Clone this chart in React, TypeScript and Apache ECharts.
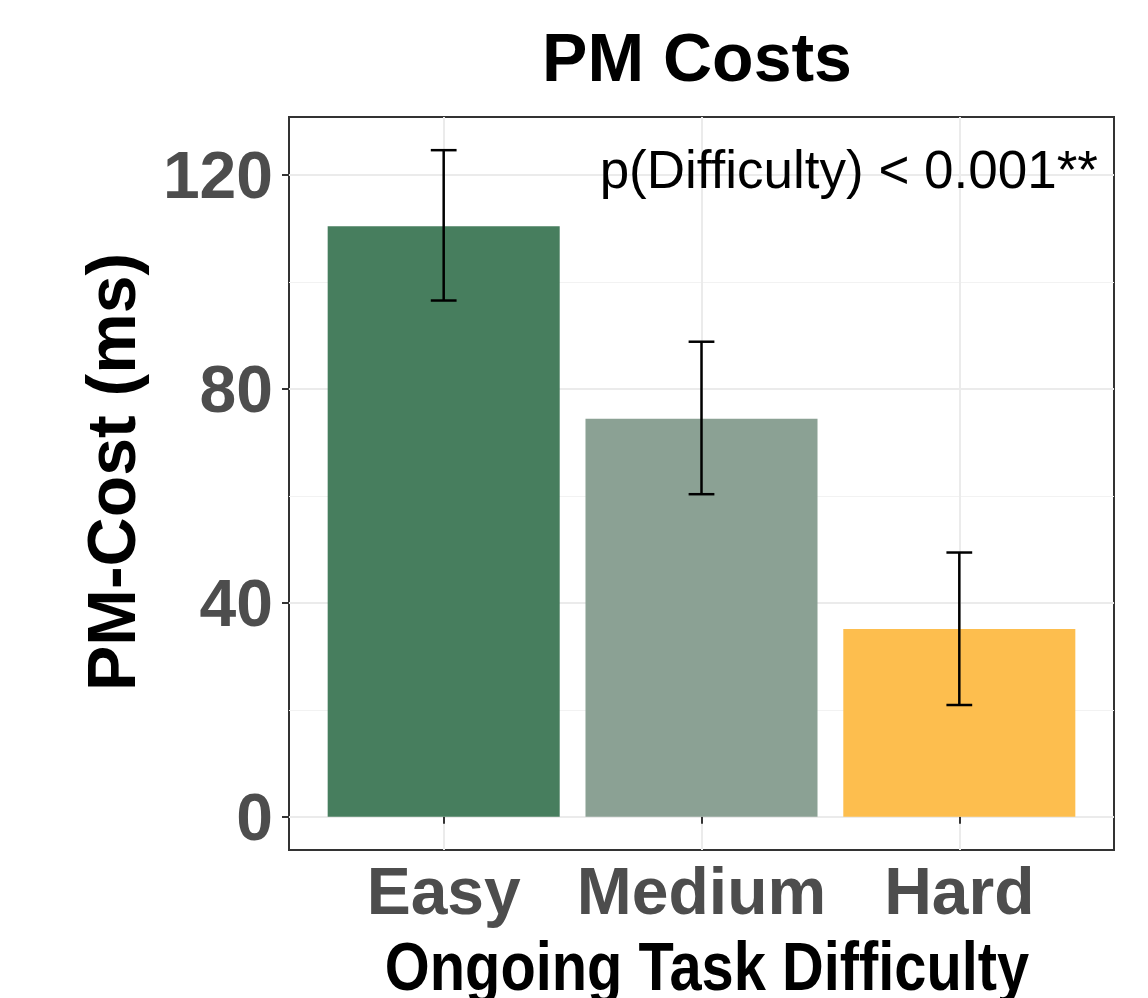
import React, { useEffect, useRef } from 'react';
import * as echarts from 'echarts';

const categories = ['Easy', 'Medium', 'Hard'];
const costValues = [110.4, 74.4, 35.1];
const errorLow = [96.5, 60.3, 20.9];
const errorHigh = [124.6, 88.8, 49.4];
const barColors = ['#477E5E', '#8BA194', '#FDBE4E'];
const yTicks = [0, 40, 80, 120];
const yMinorTicks = [20, 60, 100];
const xTicks = [1, 2, 3];
const titleText = 'PM Costs';
const xTitle = 'Ongoing Task Difficulty';
const yTitle = 'PM-Cost (ms)';
const annotation = 'p(Difficulty) < 0.001**';

const FONT = 'Liberation Sans, Arial, Helvetica, sans-serif';

export default function App() {
  const ref = useRef<HTMLDivElement>(null);
  useEffect(() => {
    const chart = echarts.init(ref.current as HTMLDivElement, null, { renderer: 'svg' });
    const data = categories.map((c, i) => [i + 1, costValues[i], errorLow[i], errorHigh[i]]);
    const yMin = -6.2;
    const yMax = 130.8;
    const option: any = {
      animation: false,
      backgroundColor: '#ffffff',
      grid: {
        left: 289,
        top: 117,
        width: 825,
        height: 733,
        show: true,
        backgroundColor: 'transparent',
        borderColor: '#333333',
        borderWidth: 2,
      },
      xAxis: {
        type: 'value',
        min: 0.4,
        max: 3.6,
        axisLine: { show: false },
        axisTick: {
          show: true,
          customValues: xTicks,
          length: 7,
          lineStyle: { color: '#333333', width: 2 },
        },
        axisLabel: {
          customValues: xTicks,
          formatter: (v: number) => categories[Math.round(v) - 1] ?? '',
          fontSize: 66,
          fontWeight: 'bold',
          color: '#4D4D4D',
          fontFamily: FONT,
          margin: 8,
        },
        splitLine: { show: true, lineStyle: { color: '#EBEBEB', width: 2 } },
      },
      yAxis: [
        {
          type: 'value',
          min: yMin,
          max: yMax,
          axisLine: { show: false },
          axisTick: {
            show: true,
            customValues: yTicks,
            length: 7,
            lineStyle: { color: '#333333', width: 2 },
          },
          axisLabel: {
            customValues: yTicks,
            fontSize: 66,
            fontWeight: 'bold',
            color: '#4D4D4D',
            fontFamily: FONT,
            margin: 16,
          },
          splitLine: { show: true, lineStyle: { color: '#EBEBEB', width: 2 } },
        },
        {
          type: 'value',
          min: yMin,
          max: yMax,
          position: 'left',
          axisLine: { show: false },
          axisTick: { show: false, customValues: yMinorTicks },
          axisLabel: { show: false, customValues: yMinorTicks },
          splitLine: { show: true, lineStyle: { color: '#F2F2F2', width: 1 } },
        },
      ],
      series: [
        {
          type: 'custom',
          name: 'PM-Cost',
          data,
          encode: { x: 0, y: 1 },
          z: 2,
          renderItem: (params: any, api: any) => {
            const x = api.value(0);
            const v = api.value(1);
            const tl = api.coord([x - 0.45, v]);
            const br = api.coord([x + 0.45, 0]);
            return {
              type: 'rect',
              shape: { x: tl[0], y: tl[1], width: br[0] - tl[0], height: br[1] - tl[1] },
              style: { fill: barColors[params.dataIndex] },
            };
          },
        },
        {
          type: 'custom',
          name: 'Error',
          data,
          encode: { x: 0, y: [2, 3] },
          z: 3,
          renderItem: (params: any, api: any) => {
            const x = api.value(0);
            const lo = api.value(2);
            const hi = api.value(3);
            const pHi = api.coord([x, hi]);
            const pLo = api.coord([x, lo]);
            const hw = api.size([0.05, 0])[0];
            const st = { stroke: '#000000', lineWidth: 2.5 };
            return {
              type: 'group',
              children: [
                { type: 'line', shape: { x1: pHi[0], y1: pHi[1], x2: pLo[0], y2: pLo[1] }, style: st },
                { type: 'line', shape: { x1: pHi[0] - hw, y1: pHi[1], x2: pHi[0] + hw, y2: pHi[1] }, style: st },
                { type: 'line', shape: { x1: pLo[0] - hw, y1: pLo[1], x2: pLo[0] + hw, y2: pLo[1] }, style: st },
              ],
            };
          },
        },
      ],
      graphic: [
        {
          type: 'text',
          x: 697,
          y: 57,
          z: 100,
          style: {
            text: titleText,
            font: `bold 68px ${FONT}`,
            fill: '#000000',
            textAlign: 'center',
            textVerticalAlign: 'middle',
          },
        },
        {
          type: 'text',
          x: 1098,
          y: 169,
          z: 100,
          style: {
            text: annotation,
            font: `53px ${FONT}`,
            fill: '#000000',
            textAlign: 'right',
            textVerticalAlign: 'middle',
          },
        },
        {
          type: 'text',
          x: 111,
          y: 472,
          z: 100,
          rotation: Math.PI / 2,
          style: {
            text: yTitle,
            font: `bold 68px ${FONT}`,
            fill: '#000000',
            textAlign: 'center',
            textVerticalAlign: 'middle',
          },
        },
        {
          type: 'text',
          x: 707,
          y: 966,
          z: 100,
          scaleX: 0.85,
          style: {
            text: xTitle,
            font: `bold 68px ${FONT}`,
            fill: '#000000',
            textAlign: 'center',
            textVerticalAlign: 'middle',
          },
        },
      ],
    };
    chart.setOption(option);
    return () => chart.dispose();
  }, []);
  return (
    <div
      ref={ref}
      style={{ position: 'fixed', left: 0, top: 0, width: 1148, height: 998 }}
    />
  );
}
